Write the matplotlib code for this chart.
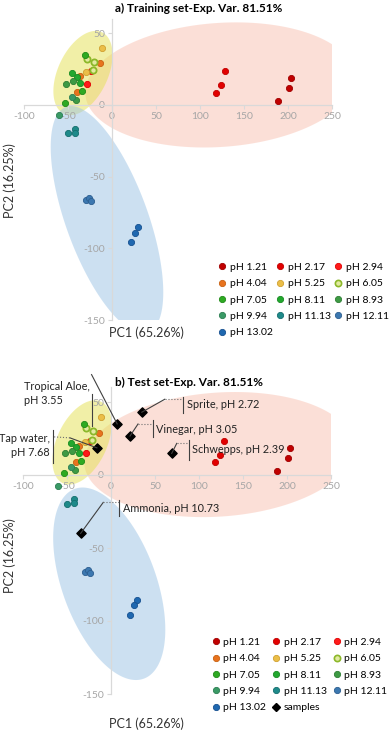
import numpy as np
import matplotlib
matplotlib.use("Agg")
import matplotlib.pyplot as plt
from matplotlib.lines import Line2D
from matplotlib.transforms import IdentityTransform

plt.rcParams['font.family'] = ['Lato', 'DejaVu Sans']
plt.rcParams['axes.unicode_minus'] = False

# ---------------- data ----------------
ph_labels = ["pH 1.21", "pH 2.17", "pH 2.94", "pH 4.04", "pH 5.25", "pH 6.05",
             "pH 7.05", "pH 8.11", "pH 8.93", "pH 9.94", "pH 11.13", "pH 12.11",
             "pH 13.02"]
ph_colors = ["#C00000", "#E20000", "#FF1A1A", "#E8731E", "#EBBE48", "#E2EAA0",
             "#2EAA22", "#22A82E", "#3E9A44", "#3A9A66", "#1E8A8A", "#3C78B0",
             "#1F68B0"]
ph_edges = ["#A00000", "#C00000", "#E00000", "#C86010", "#D0A030", "#8CB82A",
            "#208A18", "#188A22", "#2E7E34", "#2C7E52", "#146E6E", "#2C5E90",
            "#165090"]

pc1 = [[188.6, 201.5, 203.5], [118.5, 123.5, 128.8], [-23.5, -28.8],
       [-13.3, -36.0, -39.8], [-11.0, -29.5], [-28.8, -21.0, -21.6],
       [-30.7, -53.4, -33.7], [-45.0, -39.4, -36.4], [-44.0, -52.0, -41.0],
       [-45.0, -60.0], [-42.0, -42.0, -49.6], [-29.5, -25.8, -24.2],
       [30.0, 25.8, 21.2]]
pc2 = [[2.6, 11.6, 18.7], [8.6, 13.7, 23.4], [23.6, 15.0],
       [29.0, 20.0, 8.8], [39.8, 22.7], [32.0, 30.0, 24.3],
       [35.2, 1.2, 9.7], [22.0, 19.2, 15.3], [16.7, 15.0, 3.5],
       [5.5, -7.2], [-16.5, -19.2, -19.7], [-66.5, -64.8, -67.1],
       [-85.4, -89.0, -95.6]]

sample_names = ["Sprite, pH 2.72", "Tropical Aloe,\npH 3.55", "Vinegar, pH 3.05",
                "Schwepps, pH 2.39", "Tap water,\npH 7.68", "Ammonia, pH 10.73"]
sample_pc1 = [35.0, 7.0, 21.6, 69.0, -16.0, -34.5]
sample_pc2 = [43.0, 35.0, 26.7, 14.8, 18.6, -40.0]

xlim = (-100, 250)
ylim = (-150, 60)

# ellipse regions per panel: centre (data), semi-axes (px), angle (deg), colour
regions_a = [((122.7, 14.0), 135, 62, 4, "#F9C1B1"),
             ((-33.0, 22.3), 45, 25, 65, "#E5E151"),
             ((-5.7, -80.0), 120, 41, 110, "#9BC3E5")]
regions_b = [((122.7, 14.0), 135, 62, 4, "#F9C1B1"),
             ((-33.0, 22.3), 45, 25, 65, "#E5E151"),
             ((-2.0, -74.5), 101, 47, 110, "#9BC3E5")]

W, H = 392, 732
fig = plt.figure(figsize=(W / 100, H / 100), dpi=100)
ax_a = fig.add_axes([24 / W, (H - 320) / H, 308 / W, 301 / H])
ax_b = fig.add_axes([23 / W, 38 / H, 308 / W, 306.6 / H])


def ellipse_xy(ax, cx, cy, a, b, ang):
    sx = ax.bbox.width / (xlim[1] - xlim[0])
    sy = ax.bbox.height / (ylim[1] - ylim[0])
    t = np.linspace(0, 2 * np.pi, 200)
    r = np.deg2rad(ang)
    px = a * np.cos(t) * np.cos(r) - b * np.sin(t) * np.sin(r)
    py = a * np.cos(t) * np.sin(r) + b * np.sin(t) * np.cos(r)
    return cx + px / sx, cy + py / sy


def setup(ax, regions):
    ax.set_xlim(*xlim)
    ax.set_ylim(*ylim)
    for s in ["top", "right"]:
        ax.spines[s].set_visible(False)
    ax.spines["left"].set_position(("data", 0))
    ax.spines["bottom"].set_position(("data", 0))
    for s in ["left", "bottom"]:
        ax.spines[s].set_color("#D9D9D9")
        ax.spines[s].set_linewidth(0.9)
    ax.set_xticks(np.arange(-100, 251, 50))
    ax.set_yticks(np.arange(-150, 51, 50))
    ax.tick_params(color="#D9D9D9", labelcolor="#A6A6A6", labelsize=7.5,
                   length=3, width=0.8, pad=2)
    for (c, a, b, ang, col) in regions:
        ex, ey = ellipse_xy(ax, c[0], c[1], a, b, ang)
        ax.fill(ex, ey, color=col, alpha=0.5, lw=0, zorder=1)
    for i in range(len(ph_labels)):
        ax.scatter(pc1[i], pc2[i], s=20, color=ph_colors[i],
                   edgecolors=ph_edges[i], linewidths=0.6 if i != 5 else 1.3,
                   zorder=3)


setup(ax_a, regions_a)
setup(ax_b, regions_b)

# samples
ax_b.scatter(sample_pc1, sample_pc2, marker="D", s=22, color="black", zorder=4)


def to_px(ax, x, y):
    d = ax.transData.transform((x, y))
    return d[0], d[1]


# callout geometry: offsets in px from the sample (right, down); txt = anchor
callouts = [
    dict(solid=[(0, 0), (23, -13)], dot=[(23, -13), (41, -13)],
         bar=[(41, -15), (41, 1)], txt=(45, -7.5), ha="left", va="center"),
    dict(solid=[(0, 0), (-25.6, -49.3)], dot=None,
         bar=[(-25.6, -30.3), (-25.6, 1.7)], txt=(-93.6, -42.5), ha="left",
         va="top"),
    dict(solid=[(0, 0), (8, -12)], dot=[(8, -12), (23, -12)],
         bar=[(23, -16), (23, 1)], txt=(26, -6.7), ha="left", va="center"),
    dict(solid=[(0, 0), (5, -10)], dot=[(5, -10), (17, -10)],
         bar=[(17, -13), (17, 7)], txt=(20, -4), ha="left", va="center"),
    dict(solid=[(0, 0), (-27, -10)], dot=[(-27, -10), (-43.7, -11)],
         bar=[(-43.7, -17.7), (-43.7, 15.6)], txt=(-47, -14.5), ha="right",
         va="top"),
    dict(solid=[(0, 0), (22.6, -31)], dot=[(22.6, -31), (38.6, -31)],
         bar=[(38.6, -33.7), (38.6, -17)], txt=(42.6, -25), ha="left",
         va="center"),
]

for k, c in enumerate(callouts):
    x0, y0 = to_px(ax_b, sample_pc1[k], sample_pc2[k])
    for key, ls in [("solid", "-"), ("dot", ":"), ("bar", "-")]:
        seg = c[key]
        if seg is None:
            continue
        xs = [x0 + p[0] for p in seg]
        ys = [y0 - p[1] for p in seg]
        fig.add_artist(Line2D(xs, ys, transform=IdentityTransform(),
                              color="#404040" if ls != ":" else "#707070",
                              lw=0.8, ls=ls, zorder=5))
    fig.text((x0 + c["txt"][0]) / W, (y0 - c["txt"][1]) / H, sample_names[k],
             ha=c["ha"], va=c["va"], multialignment=c["ha"], fontsize=7.8,
             color="#222222", linespacing=1.3)

# titles and axis labels
fig.text(115 / W, 1 - 8 / H, "a) Training set-Exp. Var. 81.51%",
         fontsize=8.5, fontweight="bold", ha="left", va="center")
fig.text(115 / W, 1 - 382 / H, "b) Test set-Exp. Var. 81.51%",
         fontsize=8.5, fontweight="bold", ha="left", va="center")
for yc in [181, 556]:
    fig.text(10 / W, 1 - yc / H, "PC2 (16.25%)", rotation=90, fontsize=9,
             ha="center", va="center", color="#333333")
for yc in [333, 724]:
    fig.text(146 / W, 1 - yc / H, "PC1 (65.26%)", fontsize=9,
             ha="center", va="center", color="#333333")


# legends (row-wise order like the original)
def handle(i):
    return Line2D([], [], marker="o", ls="", markersize=4.5,
                  markerfacecolor=ph_colors[i], markeredgecolor=ph_edges[i],
                  markeredgewidth=0.6 if i != 5 else 1.2)


leg_kw = dict(loc="upper left", ncol=3, frameon=False, fontsize=7.5,
              handlelength=0.62, handletextpad=0.42, labelspacing=0.68,
              borderpad=0, borderaxespad=0)

order_a = [0, 3, 6, 9, 12, 1, 4, 7, 10, 2, 5, 8, 11]
h_a = [handle(i) for i in order_a]
l_a = [ph_labels[i] for i in order_a]
fig.legend(h_a, l_a, bbox_to_anchor=(219 / W, 1 - 262.5 / H),
           columnspacing=0.4, **leg_kw)

h_s = Line2D([], [], marker="D", ls="", markersize=4, color="black")
h_b = [handle(i) for i in order_a[:9]] + [h_s] + [handle(i) for i in order_a[9:]]
l_b = [ph_labels[i] for i in order_a[:9]] + ["samples"] + [ph_labels[i] for i in order_a[9:]]
fig.legend(h_b, l_b, bbox_to_anchor=(212.5 / W, 1 - 637.5 / H),
           columnspacing=0.65, **leg_kw)

fig.savefig("out.png", dpi=100)
